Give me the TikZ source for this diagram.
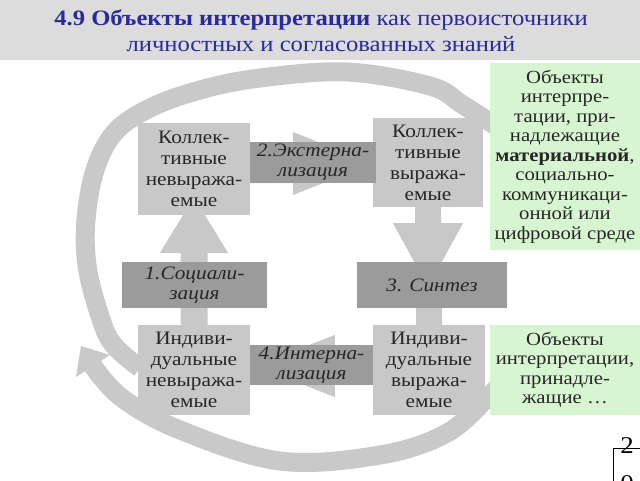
\documentclass[tikz,border=0pt]{standalone}
\usepackage{fontspec}
\setmainfont{Liberation Serif}[FakeStretch=1.12]
\usetikzlibrary{calc}
\definecolor{boxgray}{HTML}{C8C8C8}
\definecolor{ringgray}{HTML}{C9C9C9}
\definecolor{labgray}{HTML}{9B9B9B}
\definecolor{greenbg}{HTML}{D8F5D2}
\definecolor{titlebg}{HTML}{DCDCDC}
\definecolor{titleblue}{HTML}{2A2A9A}
\pgfdeclarelayer{back}
\pgfsetlayers{back,main}
\begin{document}
\begin{tikzpicture}[x=1pt,y=-1pt,
  gbox/.style={fill=boxgray, inner sep=0pt, align=center, text=black!85,
    font=\fontsize{19}{21}\selectfont},
  lbox/.style={fill=labgray, inner sep=0pt, align=center, text=black!85,
    font=\fontsize{19}{20}\selectfont\itshape},
  grbox/.style={fill=greenbg, inner sep=0pt, align=center, text=black!85,
    font=\fontsize{18.5}{19.5}\selectfont},
  ring/.style={draw=ringgray, line width=19pt},
  bigarrow/.style={fill=boxgray}]
\useasboundingbox (0,0) rectangle (640,480);
\clip (0,0) rectangle (640,480);

% nodes
\node[gbox, minimum width=112pt, minimum height=92pt] (kn) at (194,169) {Коллек-\\тивные\\невыража-\\емые};
\node[gbox, minimum width=110pt, minimum height=89pt] (kv) at (428,162.5) {Коллек-\\тивные\\выража-\\емые};
\node[gbox, minimum width=112pt, minimum height=90pt] (in) at (194,370) {Индиви-\\дуальные\\невыража-\\емые};
\node[gbox, minimum width=112pt, minimum height=90pt] (iv) at (429,370) {Индиви-\\дуальные\\выража-\\емые};

\begin{pgfonlayer}{back}
% big circular arrows
\draw[ring] plot[smooth, tension=0.6] coordinates {(505,132) (463,105) (430,86) (347,72) (260,78) (200,90) (150,108) (115,132) (95,170) (86,220) (87,265) (98,310) (112,343) (140,368)};
\draw[ring] plot[smooth, tension=0.6] coordinates {(510,375) (490,395) (447,433) (380,455) (280,461) (180,430) (122,398) (93,366)};
\coordinate (hb) at (93,366);
\fill[ringgray] ($(hb)+(17,-11)$) -- ($(hb)+(-12,-20)$) -- ($(hb)+(-17,11)$) -- cycle;
% block arrows behind the labels
\fill[bigarrow] ($(in.north)+(-13.5,0)$) -- ($(in.north)+(-13.5,-72)$) -- ($(in.north)+(-34,-72)$)
  -- ($(kn.south)+(0,-18)$) -- ($(in.north)+(34,-72)$) -- ($(in.north)+(13.5,-72)$) -- ($(in.north)+(13.5,0)$) -- cycle;
\fill[bigarrow] ($(kv.south)+(-13,0)$) -- ($(kv.south)+(-13,16)$) -- ($(kv.south)+(-35,16)$)
  -- ($(kv.south)+(0,80)$) -- ($(kv.south)+(35,16)$) -- ($(kv.south)+(13,16)$) -- ($(kv.south)+(13,0)$) -- cycle;
\fill[bigarrow] ($(iv.north)+(-13,0)$) rectangle ($(iv.north)+(13,-30)$);
\fill[bigarrow] ($(kn.east)+(0,-12)$) -- ($(kn.east)+(43,-12)$) -- ($(kn.east)+(43,-37)$)
  -- ($(kv.west)+(-1,1)$) -- ($(kn.east)+(43,26)$) -- ($(kn.east)+(43,14)$) -- ($(kn.east)+(0,14)$) -- cycle;
\fill[bigarrow] ($(iv.west)+(0,-12)$) -- ($(iv.west)+(-38,-12)$) -- ($(iv.west)+(-38,-35)$)
  -- ($(in.east)+(5,-4)$) -- ($(iv.west)+(-38,27)$) -- ($(iv.west)+(-38,14)$) -- ($(iv.west)+(0,14)$) -- cycle;
\end{pgfonlayer}

\node[lbox, minimum width=126pt, minimum height=41pt] (ext) at (313,162.5) {2.Экстерна-\\лизация};
\node[lbox, minimum width=123pt, minimum height=40pt] (int) at (311.5,365) {4.Интерна-\\лизация};
\node[lbox, minimum width=145pt, minimum height=46pt] (soc) at (194.5,285) {1.Социали-\\зация};
\node[lbox, minimum width=150pt, minimum height=46pt] (syn) at (432,285) {3. Синтез};

% green notes
\node[grbox, minimum width=150pt, minimum height=187pt] (g1) at (565,156.5) {Объекты\\интерпре-\\тации, при-\\надлежащие\\\textbf{материальной},\\социально-\\коммуникаци-\\онной или\\цифровой среде};
\node[grbox, minimum width=150pt, minimum height=90pt] (g2) at (565,370) {Объекты\\интерпретации,\\принадле-\\жащие \dots};

% title
\node[fill=titlebg, minimum width=640pt, minimum height=60pt, inner sep=0pt, anchor=north west] (bar) at (0,0) {};
\node[text=titleblue, align=center, font=\fontsize{22}{26}\selectfont] (title) at (321,31) {\textbf{4.9 Объекты интерпретации} как первоисточники\\личностных и согласованных знаний};

% page number
\node[draw=black, line width=0.8pt, minimum width=28pt, minimum height=45pt, inner sep=0pt, anchor=north west] (pg) at (613,448) {};
\node[font=\fontsize{24}{24}\selectfont, inner sep=0pt] (pg2) at (627,446) {2};
\node[font=\fontsize{24}{24}\selectfont, inner sep=0pt] (pg0) at (627,484) {0};
\end{tikzpicture}
\end{document}
